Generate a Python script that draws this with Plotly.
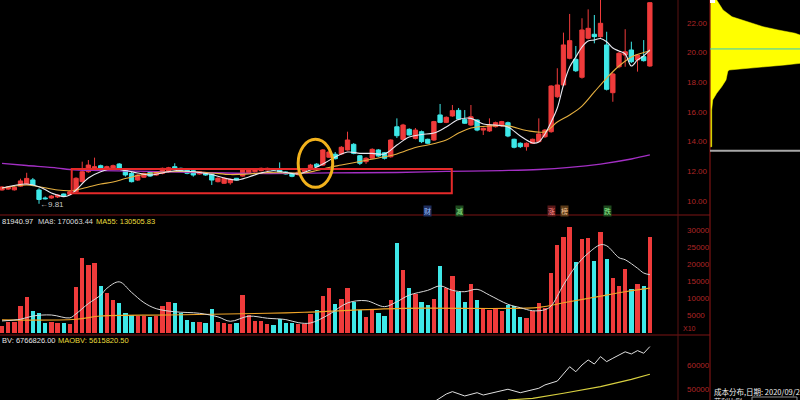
import plotly.graph_objects as go

# ---------------- data ----------------
idx = list(range(1, 107))
open_ = [10.74, 10.80, 10.75, 11.00, 11.15, 11.42, 10.74, 10.20, 10.20, 10.27,
         10.47, 10.45, 10.62, 11.30, 11.97, 12.20, 12.38, 12.20, 12.20, 12.49,
         12.09, 11.86, 11.41, 11.60, 11.93, 11.75, 11.86, 11.97, 12.31, 12.20,
         12.09, 12.04, 11.82, 11.90, 11.82, 11.30, 11.19, 11.23, 11.53, 11.68,
         11.90, 11.97, 12.04, 12.09, 12.15, 12.09, 11.95, 11.86, 11.78, 12.00,
         12.20, 12.48, 12.42, 12.95, 13.15, 13.17, 13.44, 13.82, 13.05, 12.65,
         12.88, 13.44, 13.25, 12.98, 15.00, 14.15, 14.83, 14.22, 14.67, 14.16,
         14.11, 15.80, 15.30, 15.73, 16.11, 15.50, 15.12, 15.46, 14.78, 14.72,
         15.01, 15.06, 15.28, 14.16, 13.89, 13.66, 13.89, 14.00, 14.33, 14.67,
         17.03, 17.82, 19.62, 19.55, 18.34, 20.97, 21.24, 21.08, 20.52, 17.30,
         19.05, 19.84, 20.18, 19.51, 19.73, 19.10]
high = [11.00, 11.00, 11.00, 11.50, 11.90, 11.55, 10.85, 10.30, 10.40, 10.45,
        10.50, 10.70, 11.60, 12.65, 12.76, 12.92, 12.45, 12.38, 12.45, 12.55,
        12.15, 11.95, 11.80, 11.90, 12.00, 12.00, 12.25, 12.30, 12.54, 12.25,
        12.12, 12.08, 12.00, 11.95, 11.86, 11.60, 11.60, 11.50, 11.55, 12.20,
        12.15, 12.18, 12.25, 12.25, 12.20, 12.60, 12.00, 11.90, 12.00, 12.20,
        12.50, 12.55, 13.50, 13.50, 13.30, 13.70, 14.67, 13.90, 13.10, 12.95,
        13.55, 13.50, 13.30, 14.15, 15.57, 15.20, 14.90, 14.92, 14.75, 14.20,
        15.40, 16.54, 15.70, 16.47, 16.27, 16.13, 16.47, 15.50, 14.95, 15.57,
        15.35, 15.40, 15.35, 14.20, 13.95, 13.95, 14.20, 15.57, 14.85, 17.80,
        18.95, 21.35, 22.61, 20.45, 22.32, 22.92, 22.54, 23.55, 21.41, 18.65,
        20.05, 21.58, 20.74, 19.90, 20.85, 23.40]
low = [10.70, 10.75, 10.70, 10.95, 11.10, 11.00, 9.81, 10.10, 10.15, 10.20,
       10.30, 10.40, 10.55, 11.25, 11.90, 12.15, 12.15, 12.15, 12.15, 12.15,
       11.64, 11.25, 11.35, 11.55, 11.62, 11.70, 11.80, 11.90, 12.10, 12.00,
       11.80, 11.64, 11.78, 11.70, 11.08, 11.25, 11.15, 11.10, 11.38, 11.65,
       11.85, 11.92, 12.00, 12.05, 12.05, 11.90, 11.78, 11.60, 11.70, 11.95,
       12.15, 12.30, 12.35, 12.90, 12.80, 13.10, 13.40, 13.15, 12.42, 12.50,
       12.85, 12.98, 12.80, 12.92, 14.25, 14.10, 14.40, 14.15, 13.90, 13.85,
       14.05, 15.25, 15.25, 15.68, 15.45, 15.20, 15.05, 14.70, 14.45, 14.65,
       14.95, 15.00, 14.30, 13.55, 13.57, 13.39, 13.85, 13.95, 14.25, 14.60,
       16.95, 17.75, 19.55, 18.70, 18.25, 20.90, 20.63, 21.00, 17.45, 16.69,
       18.95, 19.05, 19.30, 18.72, 19.40, 19.05]
close = [10.94, 10.94, 10.92, 11.35, 11.52, 11.07, 10.10, 10.15, 10.33, 10.40,
         10.36, 10.62, 11.53, 11.97, 12.42, 12.31, 12.20, 12.31, 12.38, 12.20,
         11.75, 11.30, 11.75, 11.86, 11.68, 11.97, 12.20, 12.24, 12.15, 12.04,
         11.86, 11.75, 11.97, 11.75, 11.41, 11.53, 11.53, 11.46, 11.41, 12.13,
         12.09, 12.13, 12.20, 12.20, 12.09, 11.93, 11.82, 11.66, 11.93, 12.15,
         12.42, 12.32, 13.44, 13.30, 12.85, 13.62, 14.11, 13.21, 12.54, 12.88,
         13.48, 13.03, 12.88, 14.11, 14.40, 15.12, 14.45, 14.78, 14.00, 13.89,
         15.35, 15.30, 15.64, 16.09, 15.52, 15.24, 15.68, 14.78, 14.90, 15.12,
         15.28, 15.35, 14.38, 13.62, 13.66, 13.89, 14.16, 14.52, 14.78, 17.75,
         17.82, 20.52, 20.81, 18.78, 21.53, 21.64, 21.08, 21.98, 17.53, 18.56,
         19.96, 20.06, 19.39, 19.84, 19.46, 23.37]
volume = [2000, 3200, 3000, 7700, 10300, 6200, 5800, 2800, 3100, 2700,
          2800, 2500, 13500, 22000, 20000, 20300, 13700, 11600, 9600, 8800,
          5600, 5200, 4800, 4800, 4600, 4800, 7700, 9000, 8800, 5800,
          3600, 3200, 3000, 2800, 6800, 3000, 2900, 2400, 2800, 10900,
          5200, 3300, 3500, 2600, 2100, 4100, 2900, 2900, 2500, 2600,
          5500, 6600, 10600, 13100, 8500, 9900, 13000, 9000, 6500, 4700,
          6900, 5800, 4900, 9700, 26300, 18300, 13200, 11200, 9100, 8000,
          9900, 19600, 13100, 16500, 12000, 9000, 14300, 9500, 7000, 6700,
          7000, 6300, 8000, 7800, 4700, 4200, 6200, 8800, 7200, 17600,
          25800, 28200, 30900, 20800, 27500, 27700, 20900, 29600, 21600, 15900,
          13600, 18800, 12900, 14200, 13700, 28194]

# price moving averages (at candle indices)
ma_white_i = [1, 5, 7, 9, 10, 11, 12, 13, 15, 17, 19, 21, 23, 25, 27, 29, 31, 33, 35, 37,
              39, 41, 43, 45, 47, 49, 51, 53, 55, 57, 59, 61, 63, 65, 67, 69, 71, 73, 75, 77,
              79, 81, 83, 85, 87, 88, 89, 90, 91, 92, 93, 94, 95, 96, 97, 98, 99, 100, 101,
              102, 103, 104, 105, 106]
ma_white_v = [10.87, 11.14, 10.96, 10.54, 10.40, 10.29, 10.40, 10.74, 11.55, 11.97, 12.17, 12.05,
              11.89, 11.75, 11.89, 12.04, 12.00, 11.92, 11.78, 11.55, 11.41, 11.62, 11.89, 12.04,
              11.92, 11.82, 12.09, 12.49, 12.96, 13.30, 13.21, 13.21, 13.17, 13.77, 14.31, 14.48,
              14.58, 14.99, 15.49, 15.57, 15.19, 15.12, 14.99, 14.38, 13.91, 13.98, 14.52, 15.32,
              16.27, 17.82, 19.03, 19.71, 20.38, 20.79, 20.85, 20.95, 20.74, 20.31, 20.11, 19.91,
              19.10, 19.51, 19.78, 20.18]
ma_yellow_i = [1, 5, 7, 10, 12, 13, 15, 17, 19, 21, 23, 25, 28, 32, 35, 38, 41, 44, 47, 50,
               52, 54, 56, 59, 62, 65, 68, 70, 73, 75, 77, 80, 83, 86, 89, 91, 93, 95, 97, 99,
               101, 103, 105, 106]
ma_yellow_v = [10.87, 11.08, 10.96, 10.74, 10.69, 10.74, 10.94, 11.14, 11.28, 11.51, 11.72, 11.87,
               11.97, 11.97, 11.89, 11.78, 11.82, 11.91, 11.89, 11.89, 12.05, 12.26, 12.42, 12.66,
               12.90, 13.17, 13.61, 13.77, 14.11, 14.58, 14.92, 15.06, 15.06, 14.75, 14.67, 15.32,
               15.80, 16.40, 17.35, 18.29, 19.10, 19.71, 20.01, 20.11]
ma_purple_i = [1, 5, 10, 12, 17, 25, 33, 44, 54, 65, 73, 82, 88, 93, 98, 103, 106]
ma_purple_v = [12.53, 12.39, 12.22, 12.12, 12.05, 11.99, 11.92, 11.85, 11.89, 11.92, 11.99,
               12.05, 12.12, 12.26, 12.49, 12.83, 13.10]

# volume moving averages
vma8_i = [1, 4, 6, 9, 12, 13, 15, 17, 18, 20, 22, 24, 26, 29, 33, 36, 38, 41, 44, 47, 49, 51,
          54, 57, 60, 63, 65, 67, 70, 72, 74, 76, 78, 80, 83, 85, 87, 89, 90, 92, 94, 96, 98,
          99, 101, 102, 104, 105, 106]
vma8_v = [3400, 3900, 4850, 5150, 4300, 5500, 8500, 11000, 13000, 14900, 11800, 8800, 7000,
          6100, 5650, 4600, 3300, 4800, 4200, 3800, 2900, 2800, 5300, 8700, 9350, 7600, 9050,
          11000, 12400, 13700, 12400, 12000, 12700, 11000, 8300, 7300, 6400, 6700, 7800, 14000,
          19500, 23300, 25800, 25500, 22000, 21400, 18900, 17500, 17006]
vma55_i = [1, 13, 17, 28, 44, 50, 66, 88, 92, 97, 102, 106]
vma55_v = [3700, 3900, 4850, 5150, 5650, 5950, 7100, 7400, 8750, 10350, 12000, 13050]

# OBV
obv_i = [71, 73, 74, 76, 78, 79, 83, 85, 88, 89, 91, 92, 93, 94, 95, 96, 97, 98, 99, 100,
         101, 102, 103, 104, 105, 106]
obv_v = [44600, 47900, 48900, 47100, 48460, 47500, 49900, 48460, 50300, 51700, 53300, 56500,
         59300, 57200, 60000, 62100, 60400, 63500, 61400, 62800, 64200, 65500, 64600, 66000,
         64900, 67668]
maobv_i = [83, 87, 92, 98, 103, 106]
maobv_v = [45400, 46100, 48200, 51000, 54000, 56158]

# cost distribution (chip) profile: price level -> relative width
chip_price = [23.55, 23.33, 22.88, 22.42, 22.20, 21.98, 21.75, 21.53, 21.41, 21.31, 21.19,
              19.28, 19.17, 19.03, 18.90, 18.83, 18.72, 18.16, 17.70, 17.26, 16.81, 16.13,
              13.66, 13.64]
chip_width = [6.7, 9, 13, 22, 33, 43, 53, 68, 77, 85, 90, 90, 75, 50, 25, 19, 17.7, 16, 11.7,
              6.7, 2.7, 1.7, 1.7, 0]
chip_avg_price = 20.25
chip_cur_price = 13.39

price_ticks = [10, 12, 14, 16, 18, 20, 22]
vol_ticks = [5000, 10000, 15000, 20000, 25000, 30000]
obv_ticks = [50000, 60000]

rect_x = [12.3, 73.9]
rect_y = [10.52, 12.16]
circ_x = [49.0, 54.6]
circ_y = [10.92, 14.16]
low_label = "←9.81"
low_idx = 7
low_val = 9.78

# ---------------- styles ----------------
RED = "#ef3b3b"
CYAN = "#3ee8e8"
AXRED = "#b02626"
LINERED = "#7d1414"
W, H = 800, 400


def px(x):
    return x / W


def py(y):
    return 1 - y / H


vol_colors = [RED if c >= o else CYAN for o, c in zip(open_, close)]

fig = go.Figure()

fig.add_trace(go.Candlestick(
    x=idx, open=open_, high=high, low=low, close=close,
    increasing=dict(line=dict(color=RED, width=1), fillcolor=RED),
    decreasing=dict(line=dict(color=CYAN, width=1), fillcolor=CYAN),
    whiskerwidth=0, xaxis="x", yaxis="y", showlegend=False, hoverinfo="skip"))

fig.add_trace(go.Scatter(x=ma_purple_i, y=ma_purple_v, mode="lines",
                         line=dict(color="#a32fc4", width=1.3, shape="spline"),
                         xaxis="x", yaxis="y", showlegend=False))
fig.add_trace(go.Scatter(x=ma_yellow_i, y=ma_yellow_v, mode="lines",
                         line=dict(color="#e6b040", width=1.1, shape="spline"),
                         xaxis="x", yaxis="y", showlegend=False))
fig.add_trace(go.Scatter(x=ma_white_i, y=ma_white_v, mode="lines",
                         line=dict(color="#e8e8f0", width=1.1, shape="spline"),
                         xaxis="x", yaxis="y", showlegend=False))

# chip profile
fig.add_trace(go.Scatter(x=chip_width, y=chip_price, mode="lines", fill="tozerox",
                         fillcolor="#ffff00", line=dict(color="#ffff00", width=0.5),
                         xaxis="x2", yaxis="y", showlegend=False))

# volume
fig.add_trace(go.Bar(x=idx, y=volume, marker=dict(color=vol_colors, line=dict(width=0)),
                     width=0.7, xaxis="x", yaxis="y3", showlegend=False))
fig.add_trace(go.Scatter(x=vma55_i, y=vma55_v, mode="lines",
                         line=dict(color="#f0a528", width=1.1, shape="spline"),
                         xaxis="x", yaxis="y3", showlegend=False))
fig.add_trace(go.Scatter(x=vma8_i, y=vma8_v, mode="lines",
                         line=dict(color="#d8d8d8", width=1, shape="spline"),
                         xaxis="x", yaxis="y3", showlegend=False))

# OBV
fig.add_trace(go.Scatter(x=maobv_i, y=maobv_v, mode="lines",
                         line=dict(color="#d8d040", width=1.1),
                         xaxis="x", yaxis="y4", showlegend=False))
fig.add_trace(go.Scatter(x=obv_i, y=obv_v, mode="lines",
                         line=dict(color="#e0e0e0", width=1),
                         xaxis="x", yaxis="y4", showlegend=False))

xdom = [0, px(678)]
yax_common = dict(side="right", anchor="free", position=px(678), showgrid=False,
                  zeroline=False, showline=False, ticks="",
                  tickfont=dict(color=AXRED, size=8, family="Liberation Sans, Arial"),
                  ticklabelstandoff=8)

fig.update_layout(
    width=W, height=H, margin=dict(l=0, r=0, t=0, b=0),
    paper_bgcolor="#000000", plot_bgcolor="#000000",
    boxgap=0, boxgroupgap=0.3, bargap=0,
    xaxis=dict(domain=xdom, range=[0.676, 110.56], visible=False,
               rangeslider=dict(visible=False), anchor="y"),
    xaxis2=dict(domain=[px(710), 1], range=[0, 90], visible=False, anchor="y"),
    yaxis=dict(domain=[py(215), 1], range=[9.053, 23.551], tickvals=price_ticks,
               ticktext=[f"{v:.2f}" for v in price_ticks], **yax_common),
    yaxis3=dict(domain=[py(335), py(215)], range=[-735, 34559], tickvals=vol_ticks,
                ticktext=[str(v) for v in vol_ticks], **yax_common),
    yaxis4=dict(domain=[0, py(335)], range=[45417, 72500], tickvals=obv_ticks,
                ticktext=[str(v) for v in obv_ticks], **yax_common),
    showlegend=False,
)

shapes = [
    # panel separators
    dict(type="line", xref="paper", yref="paper", x0=0, x1=px(710), y0=py(215), y1=py(215),
         line=dict(color=LINERED, width=1.2)),
    dict(type="line", xref="paper", yref="paper", x0=0, x1=px(710), y0=py(335), y1=py(335),
         line=dict(color=LINERED, width=1.2)),
    dict(type="line", xref="paper", yref="paper", x0=px(678), x1=px(678), y0=0, y1=1,
         line=dict(color="#5a1212", width=1)),
    dict(type="line", xref="paper", yref="paper", x0=px(710), x1=px(710), y0=0, y1=1,
         line=dict(color=LINERED, width=1.2)),
    # chip panel lines
    dict(type="line", xref="paper", yref="y", x0=px(710), x1=1, y0=chip_avg_price,
         y1=chip_avg_price, line=dict(color="#30c8c8", width=1)),
    dict(type="line", xref="paper", yref="y", x0=px(710), x1=1, y0=chip_cur_price,
         y1=chip_cur_price, line=dict(color="#a8a8a8", width=2)),
    dict(type="rect", xref="paper", yref="paper", x0=px(710), x1=px(715), y0=py(3), y1=1,
         fillcolor="#ffffff", line=dict(width=0)),
    # highlight rectangle and circle
    dict(type="rect", xref="x", yref="y", x0=rect_x[0], x1=rect_x[1], y0=rect_y[0],
         y1=rect_y[1], line=dict(color="#e52a2a", width=2)),
    dict(type="circle", xref="x", yref="y", x0=circ_x[0], x1=circ_x[1], y0=circ_y[0],
         y1=circ_y[1], line=dict(color="#f2b21c", width=3)),
    # small box at bottom right
    dict(type="rect", xref="paper", yref="paper", x0=px(752), x1=px(797), y0=py(406),
         y1=py(397), line=dict(color="#8a8a8a", width=1)),
]
fig.update_layout(shapes=shapes)

FONT = "Liberation Sans, Arial, sans-serif"
CJK = "Noto Sans CJK SC"
ann = []


def txt(x, y, s, color, size=7.5, family=FONT, **kw):
    ann.append(dict(x=px(x), y=py(y), xref="paper", yref="paper", text=s, showarrow=False,
                    xanchor="left", yanchor="middle",
                    font=dict(color=color, size=size, family=family), **kw))


txt(0, 221, "81940.97", "#e6e6e6")
txt(36, 221, "MA8: 170063.44", "#d8d8d8")
txt(94, 221, "MA55: 130505.83", "#e8dc3c")
txt(0, 340, "BV: 6766826.00", "#e6e6e6")
txt(56, 340, "MAOBV: 5615820.50", "#e8dc3c")
txt(681, 328, "X10", AXRED, size=7)
txt(712, 391, "成本分布,日期: 2020/09/2", "#f0f0f0", size=7.5, family=CJK)
txt(712, 401, "获利比例:", "#f0f0f0", size=7, family=CJK)

# event markers under the price panel
for xx, s, fc, bc in [(423, "财", "#9cc0ff", "#1e2e5e"), (455, "减", "#8ef08e", "#1e4a1e"),
                      (547, "涨", "#ff9090", "#5a1818"), (560, "榜", "#f0c090", "#5a3a18"),
                      (603, "跌", "#8ef08e", "#1e4a1e")]:
    txt(xx, 211, s, fc, size=7, family=CJK, bgcolor=bc, borderpad=0)

ann.append(dict(x=low_idx, y=low_val, xref="x", yref="y", text=low_label, showarrow=False,
                xanchor="left", yanchor="middle", xshift=-1,
                font=dict(color="#c8c8c8", size=8, family=FONT)))

fig.update_layout(annotations=ann)

fig.write_html("out.html", config={"displayModeBar": False},
               post_script="document.body.style.margin='0';")
